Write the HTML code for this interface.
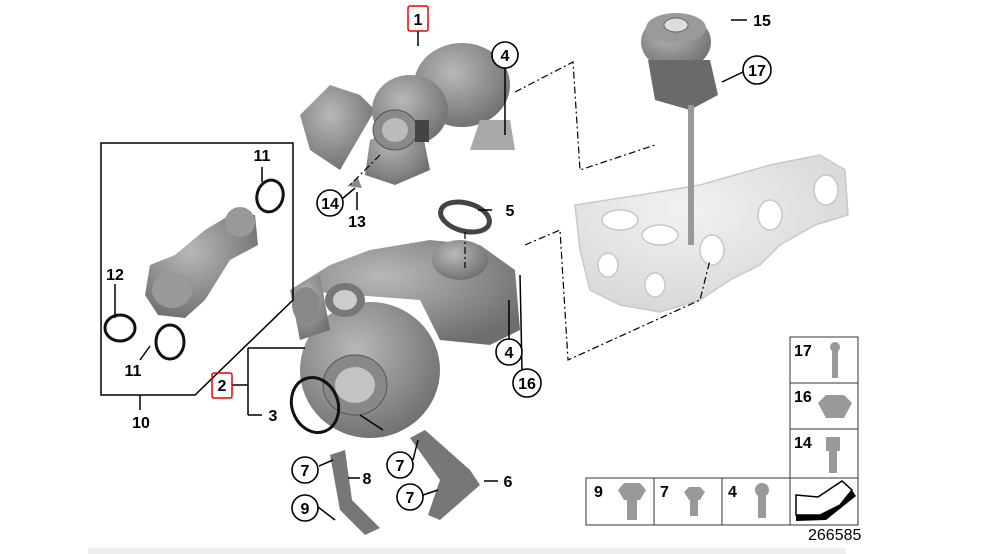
<!DOCTYPE html>
<html><head><style>
html,body{margin:0;padding:0;background:#fff;}
svg{display:block;}
text{font-family:"Liberation Sans",sans-serif;font-weight:bold;font-size:16px;fill:#000;}
</style></head><body>
<svg width="1000" height="554" viewBox="0 0 1000 554">
<defs>
<radialGradient id="g" cx="40%" cy="35%" r="70%"><stop offset="0" stop-color="#b8b8b8"/><stop offset="1" stop-color="#6e6e6e"/></radialGradient>
<radialGradient id="lg" cx="40%" cy="35%" r="70%"><stop offset="0" stop-color="#f2f2f2"/><stop offset="1" stop-color="#d6d6d6"/></radialGradient>
</defs>
<!-- manifold ghost -->
<g fill="url(#lg)" stroke="#c8c8c8" stroke-width="1.5">
<path d="M575 205 L640 195 L700 185 L770 165 L820 155 L845 170 L848 215 L815 225 L780 245 L760 265 L730 280 L700 300 L660 312 L620 305 L590 290 L580 250 Z"/>
<ellipse cx="620" cy="220" rx="18" ry="10" fill="#fff"/><ellipse cx="660" cy="235" rx="18" ry="10" fill="#fff"/>
<ellipse cx="712" cy="250" rx="12" ry="15" fill="#fff"/><ellipse cx="770" cy="215" rx="12" ry="15" fill="#fff"/><ellipse cx="826" cy="190" rx="12" ry="15" fill="#fff"/>
<ellipse cx="608" cy="265" rx="10" ry="12" fill="#fff"/><ellipse cx="655" cy="285" rx="10" ry="12" fill="#fff"/>
</g>
<!-- actuator 15/17 -->
<ellipse cx="676" cy="42" rx="35" ry="28" fill="url(#g)"/>
<ellipse cx="676" cy="28" rx="30" ry="15" fill="#9a9a9a"/>
<ellipse cx="676" cy="25" rx="12" ry="7" fill="#ddd" stroke="#666"/>
<path d="M648 60 L710 60 L718 95 L690 110 L655 100 Z" fill="#6a6a6a"/>
<rect x="688" y="105" width="6" height="140" fill="#999"/>
<!-- turbo 1 -->
<g fill="url(#g)">
<path d="M300 115 L330 85 L360 95 L375 110 L340 170 L310 150 Z"/>
<ellipse cx="462" cy="85" rx="48" ry="42"/>
<ellipse cx="410" cy="110" rx="38" ry="35"/>
<path d="M370 140 L420 120 L430 170 L395 185 L365 175 Z"/>
<path d="M480 120 L510 120 L515 150 L470 150 Z" fill="#a8a8a8"/>
</g>
<ellipse cx="395" cy="130" rx="22" ry="20" fill="#8a8a8a" stroke="#555"/>
<ellipse cx="395" cy="130" rx="13" ry="12" fill="#bbb"/>
<rect x="415" y="120" width="14" height="22" fill="#444"/>
<path d="M347 186 L358 178 L362 188 Z" fill="#888"/>
<!-- turbo 2 -->
<g fill="url(#g)">
<ellipse cx="370" cy="370" rx="70" ry="68"/>
<path d="M290 290 L330 265 L370 250 L430 240 L480 245 L515 270 L520 330 L490 345 L440 340 L420 300 Z"/>
<path d="M290 290 L320 275 L330 330 L300 340 Z"/>
<ellipse cx="460" cy="260" rx="28" ry="20"/>
</g>
<ellipse cx="355" cy="385" rx="32" ry="30" fill="#888" stroke="#555"/>
<ellipse cx="355" cy="385" rx="20" ry="18" fill="#c4c4c4"/>
<ellipse cx="345" cy="300" rx="20" ry="17" fill="#777"/>
<ellipse cx="345" cy="300" rx="12" ry="10" fill="#ccc"/>
<ellipse cx="306" cy="305" rx="14" ry="18" fill="#888"/>
<!-- gasket 5 -->
<ellipse cx="465" cy="217" rx="25" ry="14" fill="none" stroke="#444" stroke-width="5" transform="rotate(15 465 217)"/>
<!-- ring 3 -->
<ellipse cx="315" cy="405" rx="23" ry="28" fill="none" stroke="#111" stroke-width="3" transform="rotate(-20 315 405)"/>
<!-- brackets -->
<path d="M330 455 L345 450 L352 500 L372 520 L380 528 L365 535 L340 510 Z" fill="#777"/>
<path d="M410 438 L425 430 L470 470 L480 485 L440 520 L428 515 L440 480 Z" fill="#777"/>
<!-- box 10 -->
<path d="M101 143 L293 143 L293 300 L195 395 L101 395 Z" fill="none" stroke="#000" stroke-width="1.5"/>
<g fill="url(#g)">
<path d="M150 265 L175 255 L205 230 L230 215 L255 215 L258 245 L230 260 L205 300 L185 318 L158 315 L145 295 Z"/>
</g>
<ellipse cx="240" cy="222" rx="15" ry="15" fill="#999"/>
<ellipse cx="172" cy="290" rx="20" ry="18" fill="#999"/>
<ellipse cx="270" cy="196" rx="13" ry="16" fill="none" stroke="#111" stroke-width="3" transform="rotate(15 270 196)"/>
<ellipse cx="120" cy="328" rx="15" ry="13" fill="none" stroke="#111" stroke-width="3"/>
<ellipse cx="170" cy="342" rx="14" ry="17" fill="none" stroke="#111" stroke-width="3"/>
<!-- leader lines -->
<g stroke="#000" stroke-width="1.5" fill="none">
<line x1="418" y1="31" x2="418" y2="46"/>
<line x1="505" y1="68" x2="505" y2="135"/>
<line x1="731" y1="20" x2="747" y2="20"/>
<line x1="743" y1="72" x2="722" y2="82"/>
<line x1="262" y1="167" x2="262" y2="182"/>
<line x1="115" y1="284" x2="115" y2="318"/>
<line x1="140" y1="360" x2="150" y2="346"/>
<line x1="140" y1="395" x2="140" y2="410"/>
<line x1="342" y1="199" x2="355" y2="188"/>
<line x1="357" y1="192" x2="357" y2="210"/>
<line x1="478" y1="210" x2="492" y2="210"/>
<line x1="509" y1="339" x2="509" y2="300"/>
<line x1="522" y1="370" x2="520" y2="275"/>
<path d="M232 385 L248 385 M248 348 L248 415 M248 348 L305 348 M248 415 L262 415"/>
<line x1="319" y1="466" x2="333" y2="460"/>
<line x1="348" y1="478" x2="360" y2="478"/>
<line x1="318" y1="507" x2="335" y2="520"/>
<line x1="413" y1="460" x2="418" y2="440"/>
<line x1="423" y1="495" x2="438" y2="490"/>
<line x1="484" y1="481" x2="498" y2="481"/>
<line x1="383" y1="430" x2="360" y2="415"/>
</g>
<g stroke="#000" stroke-width="1.2" fill="none" stroke-dasharray="7,3,2,3">
<path d="M515 92 L573 62 L580 170 L655 145"/>
<path d="M525 245 L560 230 L568 360 L700 300 L710 260"/>
<line x1="380" y1="155" x2="350" y2="185"/>
<line x1="465" y1="232" x2="465" y2="268"/>
</g>
<!-- circles -->
<g fill="#fff" stroke="#000" stroke-width="1.6">
<circle cx="505" cy="55" r="13"/><circle cx="757" cy="70" r="14"/>
<circle cx="330" cy="203" r="13"/><circle cx="509" cy="352" r="13"/><circle cx="527" cy="383" r="14"/>
<circle cx="305" cy="470" r="13"/><circle cx="400" cy="465" r="13"/><circle cx="410" cy="497" r="13"/><circle cx="305" cy="508" r="13"/>
</g>
<g text-anchor="middle">
<text x="505" y="61">4</text><text x="757" y="76">17</text><text x="330" y="209">14</text>
<text x="509" y="358">4</text><text x="527" y="389">16</text>
<text x="305" y="476">7</text><text x="400" y="471">7</text><text x="410" y="503">7</text><text x="305" y="514">9</text>
<text x="418" y="25">1</text><text x="222" y="391">2</text>
<text x="762" y="26">15</text><text x="262" y="161">11</text><text x="115" y="280">12</text><text x="133" y="376">11</text>
<text x="141" y="428">10</text><text x="357" y="227">13</text><text x="510" y="216">5</text>
<text x="273" y="421">3</text><text x="367" y="484">8</text><text x="508" y="487">6</text>
</g>
<rect x="408" y="6" width="20" height="25" rx="2" fill="none" stroke="#e00" stroke-width="1.5"/>
<rect x="212" y="373" width="20" height="25" rx="2" fill="none" stroke="#e00" stroke-width="1.5"/>
<!-- grid -->
<g fill="none" stroke="#333" stroke-width="1">
<rect x="790" y="337" width="68" height="188"/>
<line x1="790" y1="383" x2="858" y2="383"/><line x1="790" y1="429" x2="858" y2="429"/><line x1="790" y1="478" x2="858" y2="478"/>
<rect x="586" y="478" width="204" height="47"/>
<line x1="654" y1="478" x2="654" y2="525"/><line x1="722" y1="478" x2="722" y2="525"/>
</g>
<g font-size="15">
<text x="794" y="356">17</text><text x="794" y="402">16</text><text x="794" y="448">14</text>
<text x="594" y="497">9</text><text x="660" y="497">7</text><text x="728" y="497">4</text>
</g>
<g fill="#999">
<rect x="832" y="350" width="6" height="28"/><circle cx="835" cy="347" r="5"/>
<polygon points="818,403 826,395 844,395 852,403 844,418 826,418"/>
<rect x="826" y="437" width="14" height="14"/><rect x="829" y="451" width="8" height="22"/>
<polygon points="618,490 624,483 640,483 646,490 640,500 624,500"/><rect x="627" y="500" width="10" height="20"/>
<polygon points="684,492 689,487 700,487 705,492 700,500 689,500"/><rect x="690" y="500" width="8" height="16"/>
<circle cx="762" cy="490" r="7"/><rect x="758" y="496" width="8" height="22"/>
</g>
<path d="M796 495 L818 497 L842 481 L852 490 L840 505 L820 515 L796 515 Z" fill="#fff" stroke="#000" stroke-width="1.5"/>
<path d="M796 515 L820 515 L840 505 L852 490 L856 496 L826 520 L796 521 Z" fill="#000"/>
<text x="808" y="540" font-weight="normal" font-size="13" fill="#333" style="font-weight:normal">266585</text>
<rect x="88" y="548" width="758" height="6" fill="#eee"/>
</svg>
</body></html>
